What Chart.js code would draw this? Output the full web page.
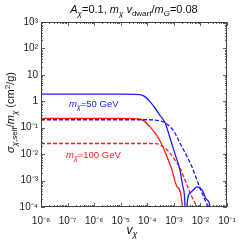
<!DOCTYPE html>
<html><head><meta charset="utf-8">
<script src="https://cdn.jsdelivr.net/npm/chart.js@4.4.1/dist/chart.umd.min.js"></script>
<style>html,body{margin:0;padding:0;background:#fff;overflow:hidden}#wrap{width:249px;height:243px}</style>
</head><body><div id="wrap"><canvas id="c" width="249" height="243"></canvas></div>
<script>
// ---- data ----
const xTickValues = [1e-8, 1e-7, 1e-6, 1e-5, 1e-4, 1e-3, 1e-2, 1e-1];
const xTickLabels = ['10⁻⁸', '10⁻⁷', '10⁻⁶', '10⁻⁵', '10⁻⁴', '10⁻³', '10⁻²', '10⁻¹'];
const yTickValues = [1e-4, 1e-3, 1e-2, 1e-1, 1, 10, 100, 1000];
const yTickLabels = ['10⁻⁴', '10⁻³', '10⁻²', '10⁻¹', '1', '10', '10²', '10³'];

// m_chi = 50 GeV, solid
const vBlueSolid = [1e-8, 1e-6, 1e-5, 3.16e-5, 5.37e-5, 8.13e-5, 1.26e-4, 1.95e-4, 3.02e-4, 4.68e-4, 7.16e-4, 1.10e-3, 1.70e-3, 2.19e-3, 2.63e-3, 2.85e-3, 3.09e-3, 4.07e-3, 6.31e-3, 7.41e-3, 1.15e-2, 1.78e-2, 2.29e-2, 2.51e-2];
const sBlueSolid = [1.85, 1.85, 1.85, 1.84, 1.78, 1.5, 0.97, 0.557, 0.29, 0.155, 0.041, 0.0102, 0.0025, 5.8e-4, 1.0e-4, 1e-7, 1.0e-4, 3.4e-4, 5.2e-4, 5.8e-4, 4.4e-4, 1.85e-4, 1.0e-4, 1e-7];
// m_chi = 50 GeV, dashed
const vBlueDashed = [1e-8, 1e-5, 1e-4, 1.95e-4, 3.02e-4, 4.68e-4, 7.16e-4, 1.10e-3, 1.70e-3, 2.63e-3, 4.79e-3, 8.13e-3, 1.48e-2, 1.95e-2, 3.16e-2];
const sBlueDashed = [0.2, 0.2, 0.2, 0.195, 0.18, 0.155, 0.11, 0.063, 0.026, 0.0115, 0.0033, 8.1e-4, 1.85e-4, 1.0e-4, 3e-5];
// m_chi = 100 GeV, solid
const vRedSolid = [1e-8, 1e-5, 3.16e-5, 5.37e-5, 8.13e-5, 1.26e-4, 1.95e-4, 3.02e-4, 4.68e-4, 8.51e-4, 1.32e-3, 2.04e-3, 2.34e-3];
const sRedSolid = [0.225, 0.225, 0.222, 0.21, 0.17, 0.11, 0.063, 0.0316, 0.012, 0.0025, 5.8e-4, 1.4e-4, 1e-7];
// m_chi = 100 GeV, dashed
const vRedDashed = [1e-8, 1e-5, 1e-4, 2.51e-4, 3.02e-4, 4.68e-4, 7.16e-4, 1.10e-3, 1.70e-3, 2.63e-3, 4.42e-3, 7.41e-3, 1.26e-2];
const sRedDashed = [0.0253, 0.0253, 0.0253, 0.0245, 0.0222, 0.0171, 0.011, 0.006, 0.003, 0.00105, 2.85e-4, 1.0e-4, 3e-5];

const BLUE = '#1a1aff', RED = '#ff1a1a';
const FONT = '"Liberation Sans", Arial, sans-serif';

function pts(xs, ys) { return xs.map((x, i) => ({x: x, y: ys[i]})); }

function drawRich(ctx, segs, x, y, align) {
  let w = 0;
  const m = segs.map(s => {
    ctx.font = (s[2] ? 'italic ' : '') + s[1] + 'px ' + FONT;
    const ww = ctx.measureText(s[0]).width; w += ww; return ww;
  });
  let cx = align === 'center' ? x - w / 2 : x;
  segs.forEach((s, i) => {
    ctx.font = (s[2] ? 'italic ' : '') + s[1] + 'px ' + FONT;
    ctx.fillText(s[0], cx, y + (s[3] || 0));
    cx += m[i];
  });
}

const framePlugin = {
  id: 'frame',
  afterDatasetsDraw(chart) {
    const {ctx, chartArea: a, scales} = chart;
    const xs = scales.x, ys = scales.y;
    ctx.save();
    ctx.strokeStyle = '#666'; ctx.lineWidth = 1;
    ctx.beginPath();
    for (let n = -8; n <= -1; n++) {
      for (let k = 1; k <= 9; k++) {
        const v = k * Math.pow(10, n);
        if (v > 0.1 * 1.0001) break;
        const px = Math.round(xs.getPixelForValue(v)) + 0.5;
        const L = k === 1 ? 4 : 2;
        ctx.moveTo(px, a.bottom); ctx.lineTo(px, a.bottom - L);
        ctx.moveTo(px, a.top); ctx.lineTo(px, a.top + L);
      }
    }
    for (let n = -4; n <= 3; n++) {
      for (let k = 1; k <= 9; k++) {
        const v = k * Math.pow(10, n);
        if (v > 1000 * 1.0001) break;
        const py = Math.round(ys.getPixelForValue(v)) + 0.5;
        const L = k === 1 ? 4 : 2;
        ctx.moveTo(a.left, py); ctx.lineTo(a.left + L, py);
        ctx.moveTo(a.right, py); ctx.lineTo(a.right - L, py);
      }
    }
    ctx.stroke();
    ctx.strokeStyle = '#444';
    ctx.strokeRect(Math.round(a.left) + 0.5, Math.round(a.top) + 0.5, Math.round(a.right - a.left) - 1, Math.round(a.bottom - a.top) - 1);
    ctx.restore();
  },
  afterDraw(chart) {
    const {ctx, chartArea: a} = chart;
    ctx.save();
    ctx.fillStyle = '#111';
    ctx.textBaseline = 'alphabetic';
    // title
    drawRich(ctx, [['A', 11, true], ['χ', 8, true, 3], ['=0.1, ', 11], ['m', 11, true], ['χ', 8, true, 3], [' ', 11],
      ['v', 11, true], ['dwarf', 8, false, 3], ['/', 11], ['m', 11, true], ['G', 8, true, 3], ['=0.08', 11]],
      (a.left + a.right) / 2, 13, 'center');
    // x title
    drawRich(ctx, [['v', 12, true], ['χ', 9, true, 3]], (a.left + a.right) / 2 - 2, 234, 'center');
    // y title
    ctx.save();
    ctx.translate(14, (a.top + a.bottom) / 2 - 2);
    ctx.rotate(-Math.PI / 2);
    drawRich(ctx, [['σ', 11, true], ['χ', 8, true, 3], [',self', 8, false, 3], ['/', 11], ['m', 11, true], ['χ', 8, true, 3],
      [' (cm', 11], ['2', 8, false, -4], ['/g)', 11]], 0, 0, 'center');
    ctx.restore();
    // annotations
    ctx.fillStyle = BLUE;
    drawRich(ctx, [['m', 9.5, true], ['χ', 7, true, 2], ['=50 GeV', 9.5]], 69, 107, 'left');
    ctx.fillStyle = RED;
    drawRich(ctx, [['m', 9.5, true], ['χ', 7, true, 2], ['=100 GeV', 9.5]], 66, 158, 'left');
    ctx.restore();
  }
};

const common = {pointRadius: 0, borderWidth: 1.3, fill: false, cubicInterpolationMode: 'monotone', clip: 0};

new Chart(document.getElementById('c'), {
  type: 'line',
  data: {
    datasets: [
      Object.assign({label: 'm=50 solid', data: pts(vBlueSolid, sBlueSolid), borderColor: BLUE}, common),
      Object.assign({label: 'm=50 dashed', data: pts(vBlueDashed, sBlueDashed), borderColor: BLUE, borderDash: [4, 2]}, common),
      Object.assign({label: 'm=100 solid', data: pts(vRedSolid, sRedSolid), borderColor: RED}, common),
      Object.assign({label: 'm=100 dashed', data: pts(vRedDashed, sRedDashed), borderColor: RED, borderDash: [4, 2]}, common)
    ]
  },
  options: {
    responsive: false, animation: false, devicePixelRatio: 1,
    layout: {padding: {left: 0, right: 22, top: 22, bottom: 0}},
    plugins: {legend: {display: false}, tooltip: {enabled: false}, title: {display: false}},
    scales: {
      x: {
        type: 'logarithmic', min: 1e-8, max: 1e-1,
        grid: {display: false, drawTicks: false}, border: {display: false},
        afterBuildTicks: s => { s.ticks = xTickValues.map(v => ({value: v})); },
        afterFit: s => { s.height = 36; },
        ticks: {autoSkip: false, maxRotation: 0, padding: 8, color: '#222', font: {family: FONT, size: 10},
          callback: (v) => { const i = xTickValues.findIndex(t => Math.abs(t - v) / t < 1e-6); return i >= 0 ? xTickLabels[i] : ''; }}
      },
      y: {
        type: 'logarithmic', min: 1e-4, max: 1e3,
        grid: {display: false, drawTicks: false}, border: {display: false},
        afterBuildTicks: s => { s.ticks = yTickValues.map(v => ({value: v})); },
        afterFit: s => { s.width = 41; },
        ticks: {autoSkip: false, padding: 3, color: '#222', font: {family: FONT, size: 10},
          callback: (v) => { const i = yTickValues.findIndex(t => Math.abs(t - v) / t < 1e-6); return i >= 0 ? yTickLabels[i] : ''; }}
      }
    }
  },
  plugins: [framePlugin]
});
</script></body></html>
